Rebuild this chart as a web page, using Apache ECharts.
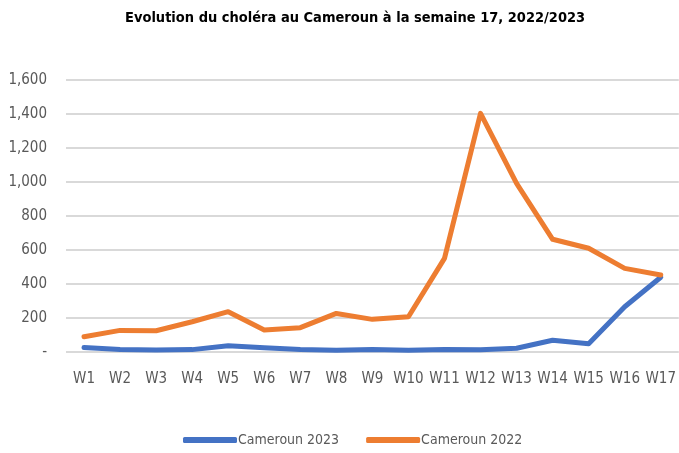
<!DOCTYPE html>
<html>
<head>
<meta charset="utf-8">
<script src="https://cdn.jsdelivr.net/npm/echarts@6/dist/echarts.min.js"></script>
<style>
  html, body { margin: 0; padding: 0; background: #fff; }
  #choleraChart { width: 679px; height: 453px; }
</style>
</head>
<body>
<div id="choleraChart"></div>
<script>
  // semaines epidemiologiques
  var weeks = ['W1','W2','W3','W4','W5','W6','W7','W8','W9','W10','W11','W12','W13','W14','W15','W16','W17'];
  // cas hebdomadaires
  var cases2023 = [27, 15, 12, 14, 37, 25, 14, 11, 14, 10, 15, 13, 22, 69, 49, 266, 440];
  var cases2022 = [90, 127, 125, 178, 237, 129, 143, 227, 192, 207, 551, 1404, 992, 663, 610, 492, 453];
  var yTicks = [0, 200, 400, 600, 800, 1000, 1200, 1400, 1600];

  var fontNarrow = '"Liberation Sans Narrow", "DejaVu Sans Condensed", sans-serif';

  var myChart = echarts.init(document.getElementById('choleraChart'));
  myChart.setOption({
    animation: false,
    textStyle: { fontFamily: fontNarrow },
    title: {
      text: 'Evolution du choléra au Cameroun à la semaine 17, 2022/2023',
      left: 120,
      top: 6,
      textStyle: { fontFamily: fontNarrow, fontSize: 14.5, fontWeight: 'bold', color: '#000' }
    },
    color: ['#4472C4', '#ED7D31'],
    grid: { left: 66, right: 0, top: 80, bottom: 101, containLabel: false },
    legend: {
      bottom: 1,
      left: 178,
      itemWidth: 54,
      itemHeight: 6,
      itemGap: 27,
      icon: 'roundRect',
      textStyle: { fontFamily: fontNarrow, fontSize: 14, color: '#595959', padding: [0, 0, 0, -4] },
      data: ['Cameroun 2023', 'Cameroun 2022']
    },
    xAxis: {
      type: 'category',
      data: weeks,
      boundaryGap: true,
      axisLine: { show: false },
      axisTick: { show: false },
      axisLabel: { color: '#595959', fontSize: 15, margin: 20, interval: 0 }
    },
    yAxis: {
      type: 'value',
      min: yTicks[0],
      max: yTicks[yTicks.length - 1],
      interval: 200,
      axisLine: { show: false },
      axisTick: { show: false },
      splitLine: { lineStyle: { color: '#D9D9D9', width: 2 } },
      axisLabel: {
        color: '#595959',
        fontSize: 15,
        margin: 19,
        formatter: function (v) { return v === 0 ? '-' : v.toLocaleString('en-US'); }
      }
    },
    series: [{
      name: 'Cameroun 2023',
      type: 'line',
      symbol: 'none',
      data: cases2023,
      lineStyle: { width: 5, color: '#4472C4', cap: 'round', join: 'round' }
    }, {
      name: 'Cameroun 2022',
      type: 'line',
      symbol: 'none',
      data: cases2022,
      lineStyle: { width: 5, color: '#ED7D31', cap: 'round', join: 'round' }
    }]
  });

  window.addEventListener('resize', function () {
    myChart.resize();
  });
</script>
</body>
</html>
